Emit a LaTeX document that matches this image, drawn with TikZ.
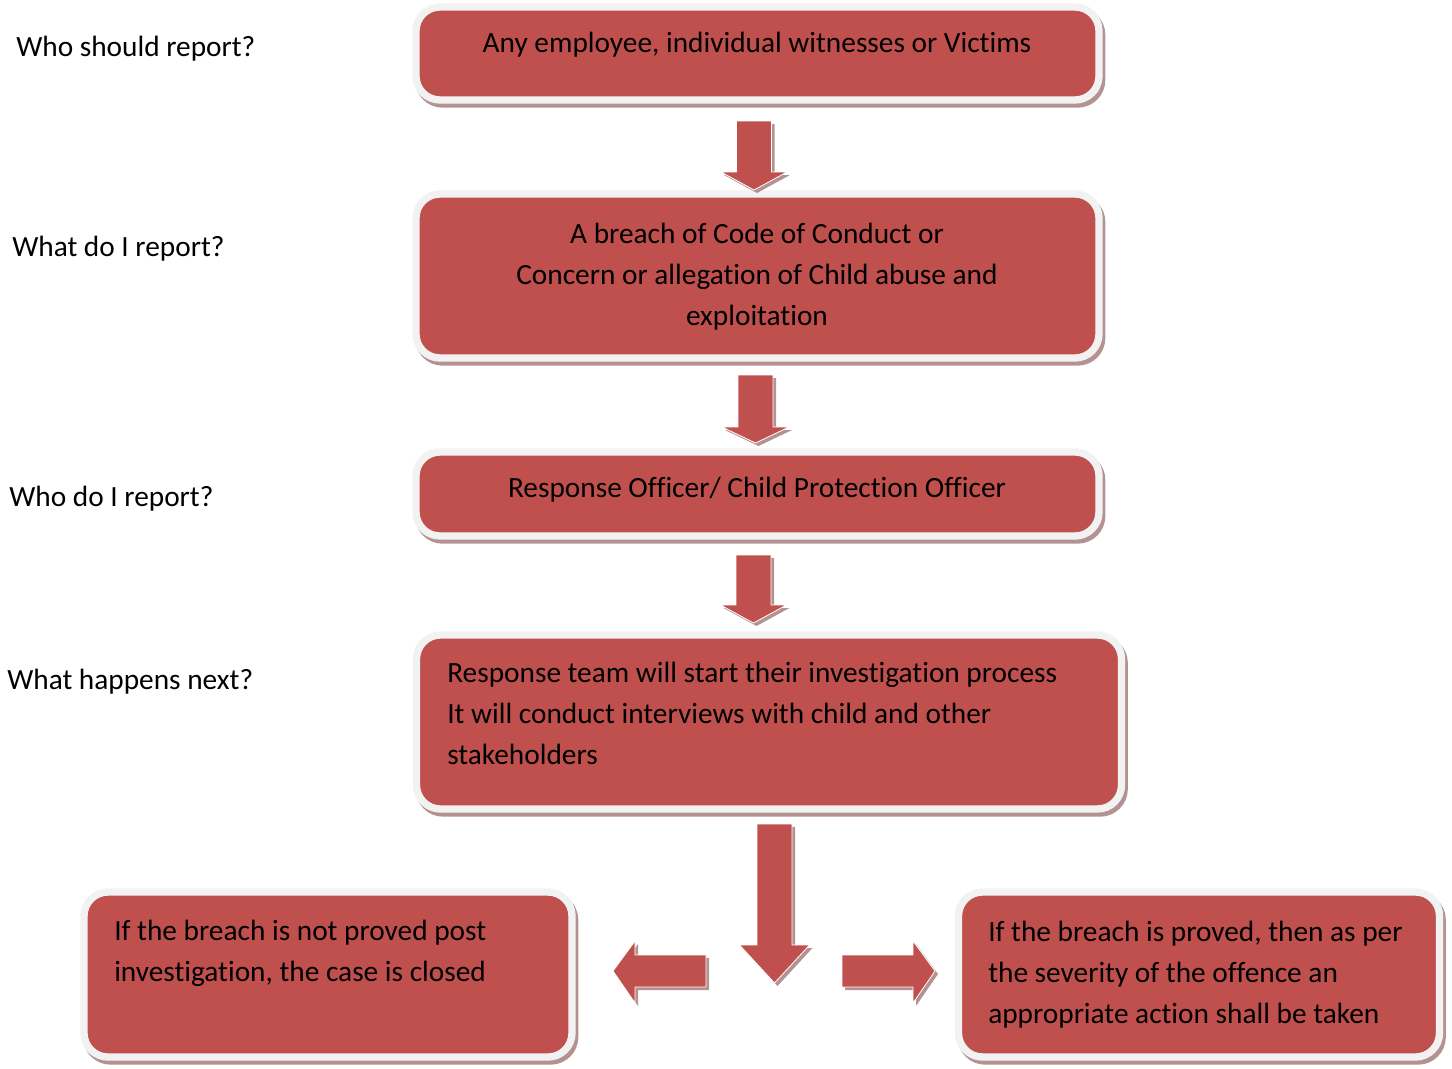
\documentclass[tikz,border=0pt]{standalone}
\usepackage{fontspec}
\setmainfont{Carlito}[Ligatures=NoCommon]
\definecolor{boxred}{HTML}{C0504D}
\definecolor{framegray}{HTML}{F2F2F2}
\definecolor{shadered}{RGB}{180,146,146}
\def\px{0.75pt}
\begin{document}
\begin{tikzpicture}[x=0.75pt,y=-0.75pt, line join=round,
    card/.style={fill=boxred, draw=framegray, line width=5.5pt, rounded corners=18pt,
      inner sep=0pt,
      preaction={draw=shadered, fill=shadered, transform canvas={shift={(2pt,-3pt)}}}},
    txt/.style={font=\fontsize{22}{30.75}\selectfont, inner sep=0pt}]
  \useasboundingbox (0,0) rectangle (1452,1068);
  % boxes
  \node[card, minimum width=683*\px, minimum height=93*\px]  (who)  at (757.5,53.5) {};
  \node[card, minimum width=683*\px, minimum height=164*\px] (what) at (757.5,276) {};
  \node[card, minimum width=683*\px, minimum height=84*\px]  (whom) at (757.5,494) {};
  \node[card, minimum width=705*\px, minimum height=174*\px] (next) at (769,722) {};
  \node[card, minimum width=488*\px, minimum height=165*\px] (closed) at (328,974.5) {};
  \node[card, minimum width=481*\px, minimum height=165*\px] (action) at (1199,974.5) {};
  % texts
  \node[txt] at (757,45) {Any employee, individual witnesses or Victims};
  \node[txt, align=center] at (757,277) {A breach of Code of Conduct or\\Concern or allegation of Child abuse and\\exploitation};
  \node[txt] at (757,490) {Response Officer/ Child Protection Officer};
  \node[txt, align=left, anchor=west] at (447,713) {Response team will start their investigation process\\It will conduct interviews with child and other\\stakeholders};
  \node[txt, align=left, anchor=west] at (114,953) {If the breach is not proved post\\investigation, the case is closed};
  \node[txt, align=left, anchor=west] at (988,975) {If the breach is proved, then as per\\the severity of the offence an\\appropriate action shall be taken};
  % questions
  \foreach \x/\y/\q in {16/49/Who should report?, 12/249/What do I report?,
      9/499/Who do I report?, 7/682/What happens next?}
    \node[txt, anchor=west] at (\x,\y) {\q};
  % down arrows
  \foreach \cx/\hs/\top/\neck/\tip/\hh in {754/17.5/121/172/190/33, 755.5/17.5/375/427/443/33.5,
      753.5/17.5/555/605/623/33, 774.5/17.5/824/945/983/35}{
    \fill[shadered, shift={(3,3)}] (\cx-\hs,\top) -- (\cx+\hs,\top) -- (\cx+\hs,\neck) -- (\cx+\hh,\neck)
      -- (\cx,\tip) -- (\cx-\hh,\neck) -- (\cx-\hs,\neck) -- cycle;
    \filldraw[fill=boxred, draw=white, line width=0.6pt] (\cx-\hs,\top) -- (\cx+\hs,\top) -- (\cx+\hs,\neck)
      -- (\cx+\hh,\neck) -- (\cx,\tip) -- (\cx-\hh,\neck) -- (\cx-\hs,\neck) -- cycle;
  }
  % side arrows
  \foreach \tail/\base/\tip in {706/635/613, 842/913/935}{
    \fill[shadered, shift={(3,3)}] (\tail,955) -- (\base,955) -- (\base,941) -- (\tip,971)
      -- (\base,1003) -- (\base,987) -- (\tail,987) -- cycle;
    \filldraw[fill=boxred, draw=white, line width=0.6pt] (\tail,955) -- (\base,955) -- (\base,941)
      -- (\tip,971) -- (\base,1003) -- (\base,987) -- (\tail,987) -- cycle;
  }
\end{tikzpicture}
\end{document}
